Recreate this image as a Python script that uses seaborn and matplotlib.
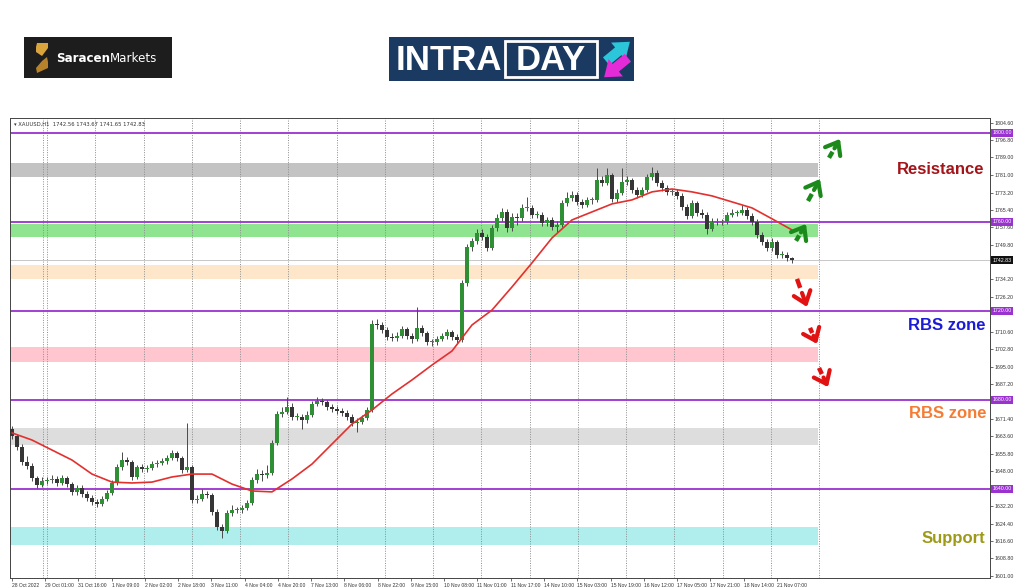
import numpy as np
import pandas as pd
import matplotlib
matplotlib.use("Agg")
import matplotlib.pyplot as plt
import matplotlib.transforms as mtransforms
from matplotlib.patches import Rectangle, Polygon
import seaborn as sns

sns.set_theme(style="white")
plt.rcParams['font.family'] = ['DejaVu Sans']
BOLD_FONT = ['Liberation Sans', 'DejaVu Sans']
SMALL_FONT = ['Liberation Sans', 'DejaVu Sans']

# --- data (XAUUSD) ---
first_open = 1667.0
close = [
    1663.8, 1658.9, 1652.1, 1650.3, 1644.9, 1641.8, 1643.6, 1644.0, 1644.5, 1642.7,
    1644.9, 1642.2, 1638.7, 1640.4, 1637.8, 1636.0, 1634.2, 1633.3, 1635.5, 1638.2,
    1642.7, 1649.9, 1653.0, 1652.1, 1645.4, 1649.9, 1649.0, 1649.4, 1651.2, 1651.7,
    1652.6, 1653.9, 1656.2, 1653.9, 1648.5, 1649.9, 1635.1, 1635.5, 1637.8, 1637.3,
    1629.7, 1622.9, 1621.1, 1629.2, 1630.6, 1630.6, 1631.5, 1633.7, 1644.0, 1646.7,
    1646.3, 1647.2, 1660.7, 1673.7, 1674.6, 1677.0, 1672.4, 1672.4, 1671.0, 1673.3,
    1678.2, 1679.6, 1679.1, 1676.9, 1676.0, 1675.1, 1674.2, 1672.4, 1669.7, 1670.1,
    1671.9, 1675.5, 1714.2, 1713.7, 1711.5, 1708.3, 1707.9, 1708.8, 1711.9, 1708.8,
    1707.4, 1712.4, 1710.1, 1706.1, 1706.1, 1707.4, 1708.8, 1710.6, 1708.3, 1707.0,
    1732.6, 1748.8, 1751.5, 1755.1, 1753.3, 1748.3, 1757.3, 1761.8, 1764.5, 1757.3,
    1762.3, 1761.8, 1766.3, 1766.3, 1763.2, 1763.2, 1759.6, 1760.9, 1757.8, 1758.7,
    1768.5, 1770.8, 1772.1, 1769.0, 1767.6, 1769.9, 1769.9, 1778.9, 1777.5, 1781.1,
    1770.3, 1773.0, 1778.0, 1778.9, 1774.4, 1772.1, 1774.4, 1780.2, 1782.0, 1777.5,
    1775.3, 1773.5, 1773.5, 1771.7, 1766.7, 1762.7, 1768.5, 1764.0, 1763.2, 1756.9,
    1760.0, 1760.0, 1760.0, 1763.2, 1764.0, 1764.0, 1765.4, 1762.7, 1760.0, 1754.2,
    1751.0, 1748.3, 1751.0, 1745.2, 1745.2, 1743.8, 1742.83]
high = [
    1668.2, 1664.9, 1660.2, 1654.6, 1651.8, 1646.0, 1645.2, 1645.6, 1646.1, 1645.9,
    1646.4, 1645.8, 1643.3, 1642.0, 1641.6, 1639.1, 1637.2, 1635.4, 1636.8, 1639.4,
    1644.1, 1651.3, 1656.6, 1654.4, 1653.0, 1651.0, 1651.2, 1650.8, 1652.5, 1653.1,
    1654.0, 1655.2, 1657.6, 1657.1, 1654.8, 1669.7, 1651.0, 1637.4, 1639.9, 1639.2,
    1638.2, 1630.8, 1624.3, 1630.5, 1632.8, 1631.9, 1632.7, 1635.0, 1645.3, 1649.0,
    1648.4, 1650.6, 1662.0, 1675.0, 1676.9, 1681.5, 1678.6, 1674.0, 1673.5, 1674.9,
    1679.5, 1681.4, 1680.9, 1680.2, 1678.3, 1677.4, 1676.5, 1675.3, 1673.6, 1671.8,
    1673.2, 1677.0, 1716.0, 1716.2, 1715.0, 1712.7, 1710.0, 1710.4, 1713.4, 1712.9,
    1710.1, 1721.6, 1713.8, 1711.2, 1707.6, 1708.9, 1710.2, 1712.0, 1711.6, 1709.6,
    1734.0, 1750.2, 1753.0, 1757.0, 1756.7, 1754.5, 1758.7, 1763.4, 1766.4, 1765.7,
    1764.1, 1763.8, 1767.9, 1771.0, 1767.7, 1764.8, 1764.3, 1762.4, 1762.0, 1760.2,
    1770.0, 1773.5, 1774.0, 1773.4, 1770.3, 1771.3, 1771.4, 1784.2, 1780.8, 1784.3,
    1782.2, 1774.6, 1784.4, 1780.6, 1779.9, 1775.6, 1775.9, 1781.6, 1784.5, 1783.3,
    1779.0, 1776.6, 1775.0, 1774.8, 1772.9, 1768.0, 1770.0, 1769.6, 1765.8, 1764.3,
    1761.6, 1761.8, 1761.5, 1764.6, 1765.6, 1765.5, 1767.6, 1766.8, 1763.9, 1761.2,
    1755.4, 1752.3, 1752.8, 1752.0, 1746.8, 1746.3, 1744.2]
low = [
    1662.5, 1657.6, 1650.8, 1648.9, 1643.4, 1640.3, 1640.7, 1642.4, 1642.8, 1641.3,
    1641.8, 1640.9, 1637.2, 1637.5, 1636.4, 1634.8, 1632.9, 1631.9, 1632.4, 1634.6,
    1637.3, 1641.8, 1648.7, 1650.6, 1644.2, 1644.5, 1647.6, 1647.8, 1648.5, 1650.0,
    1650.6, 1651.4, 1653.0, 1652.6, 1647.2, 1647.6, 1633.8, 1633.6, 1634.6, 1636.0,
    1628.4, 1621.5, 1618.0, 1620.0, 1627.9, 1629.1, 1629.4, 1630.6, 1632.8, 1642.9,
    1643.5, 1645.1, 1646.3, 1659.6, 1672.2, 1673.6, 1671.2, 1670.9, 1666.8, 1669.8,
    1672.4, 1677.2, 1677.6, 1675.7, 1674.6, 1673.9, 1672.8, 1671.1, 1668.2, 1665.4,
    1669.0, 1670.8, 1674.6, 1711.8, 1710.0, 1706.9, 1706.4, 1706.6, 1707.8, 1707.2,
    1705.6, 1706.3, 1708.7, 1704.8, 1704.2, 1704.9, 1706.3, 1707.6, 1707.0, 1705.5,
    1706.0, 1731.4, 1746.9, 1750.2, 1751.8, 1746.9, 1747.2, 1756.0, 1760.4, 1755.6,
    1756.0, 1758.8, 1760.6, 1764.8, 1761.9, 1761.7, 1758.2, 1758.1, 1756.4, 1755.6,
    1757.6, 1767.1, 1769.6, 1767.7, 1766.1, 1766.5, 1768.2, 1768.8, 1776.0, 1776.4,
    1769.0, 1768.8, 1772.0, 1776.7, 1773.0, 1770.8, 1771.0, 1773.5, 1779.0, 1776.2,
    1774.0, 1772.1, 1772.0, 1770.3, 1765.3, 1761.2, 1761.8, 1762.7, 1761.6, 1754.4,
    1755.7, 1758.6, 1758.5, 1759.0, 1762.0, 1762.6, 1763.0, 1761.3, 1758.6, 1752.8,
    1749.6, 1746.9, 1747.1, 1743.9, 1743.8, 1742.5, 1741.65]

# moving average, read every 4th bar
ma_step = 4
ma_vals = [
    1665.2, 1662.0, 1657.5, 1653.0, 1646.7, 1643.1, 1642.7, 1643.1, 1645.4, 1646.7,
    1646.7, 1642.2, 1639.1, 1638.7, 1644.5, 1651.2, 1660.2, 1669.2, 1675.5, 1682.7,
    1689.0, 1695.7, 1702.0, 1713.7, 1720.4, 1730.8, 1741.6, 1752.8, 1760.9, 1764.5,
    1768.1, 1769.9, 1773.5, 1774.8, 1773.5, 1771.7, 1769.0, 1766.3, 1761.4, 1756.4]

x_labels = ['28 Oct 2022', '29 Oct 01:00', '31 Oct 16:00', '1 Nov 09:00', '2 Nov 02:00',
            '2 Nov 18:00', '3 Nov 11:00', '4 Nov 04:00', '4 Nov 20:00', '7 Nov 13:00',
            '8 Nov 06:00', '8 Nov 22:00', '9 Nov 15:00', '10 Nov 08:00', '11 Nov 01:00',
            '11 Nov 17:00', '14 Nov 10:00', '15 Nov 03:00', '15 Nov 19:00', '16 Nov 12:00',
            '17 Nov 05:00', '17 Nov 21:00', '18 Nov 14:00', '21 Nov 07:00']
y_labels = ['1804.60', '1796.80', '1789.00', '1781.00', '1773.20', '1765.40', '1757.60',
            '1749.80', '1734.20', '1726.20', '1710.60', '1702.80', '1695.00', '1687.20',
            '1671.40', '1663.60', '1655.80', '1648.00', '1632.20', '1624.40', '1616.60',
            '1608.80', '1601.00']
levels = [1800.0, 1760.0, 1720.0, 1680.0, 1640.0]
last_price = 1742.83

zone_lo = [1780.2, 1753.3, 1734.4, 1697.1, 1659.8, 1614.8]
zone_hi = [1786.5, 1759.1, 1740.7, 1703.8, 1667.4, 1622.9]
zone_colors = ['#c3c3c3', '#8fe48f', '#fde6c9', '#ffc6d0', '#dddddd', '#b0eded']

zone_names = ['Resistance', 'RBS zone', 'RBS zone', 'Support']
zone_name_colors = ['#a3151a', '#1c1cd6', '#f47c34', '#9c9a16']

up_arrows = [(156.8, 1751.5, 158.8, 1759.1), (159.2, 1769.4, 161.6, 1779.3),
             (163.4, 1788.8, 165.6, 1797.3)]
down_arrows = [(157.0, 1734.4, 159.0, 1721.8), (159.6, 1712.4, 161.0, 1705.2),
               (161.4, 1694.4, 163.2, 1685.8)]

df = pd.DataFrame({'close': close, 'high': high, 'low': low})
df['open'] = df['close'].shift(1).fillna(first_open)
df['bar'] = np.arange(len(df))
ma = pd.DataFrame({'bar': np.arange(len(ma_vals)) * ma_step, 'ma': ma_vals})

# --- figure ---
W, H = 1024, 587
fig = plt.figure(figsize=(W / 100, H / 100), dpi=100)
fig.patch.set_facecolor('white')

ax_l, ax_r, ax_t, ax_b = 10, 990, 118, 578
ax = fig.add_axes([ax_l / W, 1 - ax_b / H, (ax_r - ax_l) / W, (ax_b - ax_t) / H])
ax.set_facecolor('white')
x_min, x_max = -0.4, 195.6
ax.set_xlim(x_min, x_max)
ax.set_ylim(1600.0, 1806.7)

zone_end = 161.2
zone_frac = (zone_end - x_min) / (x_max - x_min)
for lo_, hi_, c in zip(zone_lo, zone_hi, zone_colors):
    ax.axhspan(lo_, hi_, xmin=0, xmax=zone_frac, color=c, lw=0, zorder=0)

# dotted vertical grid
grid_bars = [6.2] + list(7 + 9.65 * np.arange(17))
for gb in grid_bars:
    ax.axvline(gb, color='#8c8c8c', lw=0.7, ls=(0, (1, 1.5)), zorder=1)

for lv in levels:
    ax.axhline(lv, color='#9a32cf', lw=1.3, zorder=2)
ax.axhline(last_price, color='#c8c8c8', lw=0.7, zorder=2)

# candles
up = df['close'] >= df['open']
ax.vlines(df['bar'], df['low'], df['high'], color='#4a4a4a', lw=0.7, zorder=3)
body = (df['close'] - df['open']).abs().clip(lower=0.35)
ax.bar(df['bar'][up], body[up], bottom=df['open'][up], width=0.7,
       color='#2f8f35', lw=0, zorder=4)
ax.bar(df['bar'][~up], body[~up], bottom=df['close'][~up], width=0.7,
       color='#363636', lw=0, zorder=4)

sns.lineplot(data=ma, x='bar', y='ma', ax=ax, color='#e3302f', lw=1.2,
             legend=False, zorder=5)

# arrows
def dashed_arrow(x0, y0, x1, y1, color):
    dx, dy = x1 - x0, y1 - y0
    ax.plot([x0, x0 + 0.32 * dx], [y0, y0 + 0.32 * dy], color=color, lw=3.2,
            solid_capstyle='butt', zorder=6, clip_on=False)
    ax.annotate('', xy=(x1, y1), xytext=(x0 + 0.5 * dx, y0 + 0.5 * dy),
                arrowprops=dict(arrowstyle='->,head_length=0.45,head_width=0.35',
                                color=color, lw=3.0, mutation_scale=18,
                                shrinkA=0, shrinkB=0),
                zorder=6, annotation_clip=False)

for a in up_arrows:
    dashed_arrow(*a, color='#1b8a1b')
for a in down_arrows:
    dashed_arrow(*a, color='#e01212')

# axes cosmetics
for s in ax.spines.values():
    s.set_color('#444444')
    s.set_linewidth(0.7)
ax.yaxis.tick_right()
ax.set_yticks([float(v) for v in y_labels])
ax.set_yticklabels(y_labels, family=SMALL_FONT)
ax.set_xticks(np.arange(len(x_labels)) * 6.654 - 0.06)
ax.set_xticklabels(x_labels, ha='left', family=SMALL_FONT)
ax.tick_params(axis='both', colors='#333333', length=2, width=0.5, pad=1.5)
ax.tick_params(axis='y', labelsize=3.8, right=True, left=False,
               labelright=True, labelleft=False)
ax.tick_params(axis='x', labelsize=3.6, bottom=True)
ax.set_xlabel('')
ax.set_ylabel('')

trans = mtransforms.blended_transform_factory(ax.transAxes, ax.transData)
for lv in levels:
    ax.text(1.0025, lv, f'{lv:.2f}', transform=trans, fontsize=3.8, color='white',
            family=SMALL_FONT, va='center', ha='left', zorder=7,
            bbox=dict(boxstyle='square,pad=0.25', fc='#9a32cf', ec='none'))
ax.text(1.0025, last_price, f'{last_price:.2f}', transform=trans, fontsize=3.8,
        color='white', family=SMALL_FONT, va='center', ha='left', zorder=7,
        bbox=dict(boxstyle='square,pad=0.25', fc='#111111', ec='none'))

ax.text(0.004, 0.992, '\u25be XAUUSD,H1  1742.56 1743.67 1741.65 1742.83',
        transform=ax.transAxes, fontsize=3.8, color='#333333', va='top', ha='left')

# --- overlay in pixel coordinates: logos and zone captions ---
ov = fig.add_axes([0, 0, 1, 1], zorder=10)
ov.set_xlim(0, W)
ov.set_ylim(H, 0)
ov.axis('off')
ov.patch.set_visible(False)

# Saracen Markets
ov.add_patch(Rectangle((24, 37), 148, 41, fc='#1d1d1d', ec='none'))
ov.add_patch(Polygon([(37, 43), (48, 43), (48, 48), (42, 56), (36, 52), (36, 47)],
                     fc='#d9a43c', ec='none'))
ov.add_patch(Polygon([(47, 57), (48, 62), (48, 68), (37, 73), (36, 68), (42, 61)],
                     fc='#b7822a', ec='none'))
t1 = ov.text(56, 58, 'Saracen', color='white', fontsize=8.6, fontweight='bold',
             va='center', ha='left')
ov.annotate('Markets', xy=(1, 0), xycoords=t1, va='bottom', ha='left',
            color='white', fontsize=8.6)

# INTRADAY
ov.add_patch(Rectangle((389, 37), 245, 44, fc='#1b3a61', ec='none'))
ov.text(396, 60, 'INTRA', color='white', fontsize=25, fontweight='bold',
        family=BOLD_FONT, va='center', ha='left')
ov.add_patch(Rectangle((505, 41), 92, 36, fill=False, ec='white', lw=2))
ov.text(551, 60, 'DAY', color='white', fontsize=25, fontweight='bold',
        family=BOLD_FONT, va='center', ha='center')
ov.annotate('', xy=(632, 40), xytext=(604, 63),
            arrowprops=dict(arrowstyle='simple,head_length=0.6,head_width=0.9,tail_width=0.4',
                            fc='#2bc6d9', ec='none', mutation_scale=18))
ov.annotate('', xy=(602, 79), xytext=(630, 56),
            arrowprops=dict(arrowstyle='simple,head_length=0.6,head_width=0.9,tail_width=0.4',
                            fc='#e42bd8', ec='none', mutation_scale=18))

label_pos = [(941, 170), (947, 326), (948, 413), (953, 538)]
for (px, py), name, c in zip(label_pos, zone_names, zone_name_colors):
    ov.text(px, py, name, color=c, fontsize=12, fontweight='bold', family=BOLD_FONT,
            va='center', ha='center')

fig.savefig('out.png', dpi=100, facecolor='white')
